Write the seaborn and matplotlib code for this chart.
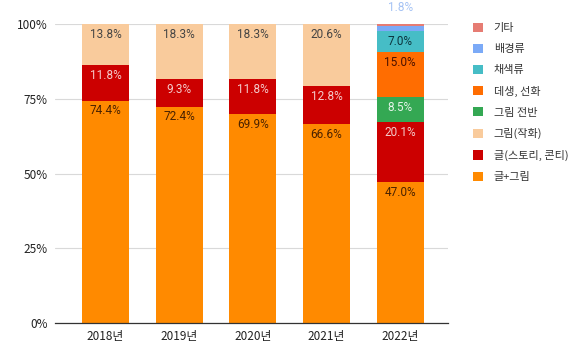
import numpy as np
import pandas as pd
import matplotlib
matplotlib.use('Agg')
import matplotlib.pyplot as plt
import seaborn as sns
from matplotlib.patches import Patch

sns.set_theme(style='white')
plt.rcParams['font.family'] = ['Noto Sans CJK KR', 'DejaVu Sans']

years = ['2018년', '2019년', '2020년', '2021년', '2022년']
# stack order, bottom to top
cats = ['글+그림', '글(스토리, 콘티)', '그림(작화)', '그림 전반', '데생, 선화', '채색류', '배경류', '기타']
v_text_img = [74.4, 72.4, 69.9, 66.6, 47.0]
v_text = [11.8, 9.3, 11.8, 12.8, 20.1]
v_drawing = [13.8, 18.3, 18.3, 20.6, 0.0]
v_draw_all = [0.0, 0.0, 0.0, 0.0, 8.5]
v_sketch = [0.0, 0.0, 0.0, 0.0, 15.0]
v_color = [0.0, 0.0, 0.0, 0.0, 7.0]
v_bg = [0.0, 0.0, 0.0, 0.0, 1.8]
v_etc = [0.0, 0.0, 0.0, 0.0, 0.6]
values = [v_text_img, v_text, v_drawing, v_draw_all, v_sketch, v_color, v_bg, v_etc]

colors = ['#FF8A00', '#CC0000', '#F9CB9C', '#34A853', '#FF6D01', '#46BDC6', '#7BAAF7', '#E67C73']
txt_colors = ['#4a2200', '#F4CCCC', '#444444', '#E6F4EA', '#4a1000', '#0C343D', '#A4C2F4', '#444444']

df = pd.DataFrame(values, index=cats, columns=years).T
cum = df.cumsum(axis=1)

fig = plt.figure(figsize=(5.82, 3.6), dpi=100)
ax = fig.add_axes([0.094, 0.103, 0.676, 0.83])

for i in range(len(cats) - 1, -1, -1):
    d = pd.DataFrame({'year': years, 'h': cum[cats[i]].values})
    sns.barplot(data=d, x='year', y='h', color=colors[i], width=0.64,
                saturation=1, ax=ax, zorder=2, linewidth=0)

for j, yr in enumerate(years):
    for i, c in enumerate(cats):
        v = df.loc[yr, c]
        if v < 5:
            continue
        top = cum.loc[yr, c]
        ax.text(j, top - 1.3, f'{v:.1f}%', ha='center', va='top', fontsize=8.5,
                color=txt_colors[i], family=['Roboto', 'DejaVu Sans'], zorder=4)
    bg = df.loc[yr, '배경류']
    if 0 < bg < 5:
        ax.text(j, 105.5, f'{bg:.1f}%', ha='center', va='center', fontsize=8.5,
                color=txt_colors[6], family=['Roboto', 'DejaVu Sans'], clip_on=False)

ax.set_ylim(0, 100)
ax.set_xlim(-0.69, 4.65)
ax.set_yticks([0, 25, 50, 75, 100])
ax.set_yticklabels(['0%', '25%', '50%', '75%', '100%'])
ax.yaxis.grid(True, color='#D9D9D9', lw=0.8, zorder=0)
ax.set_xlabel('')
ax.set_ylabel('')
ax.tick_params(axis='both', length=0, labelsize=8.5, colors='#222222', pad=5)
for sp in ['top', 'right', 'left']:
    ax.spines[sp].set_visible(False)
ax.spines['bottom'].set_color('#333333')
ax.spines['bottom'].set_linewidth(0.9)
ax.spines['bottom'].set_zorder(5)

handles = [Patch(facecolor=colors[i], edgecolor='none', label=cats[i]) for i in range(len(cats) - 1, -1, -1)]
leg = fig.legend(handles=handles, loc='upper left', bbox_to_anchor=(0.795, 0.965), frameon=False,
                 fontsize=8, handlelength=0.9, handleheight=0.9, handletextpad=1.0, labelspacing=0.95)
for t in leg.get_texts():
    t.set_color('#333333')

fig.savefig('out.png', dpi=100)
